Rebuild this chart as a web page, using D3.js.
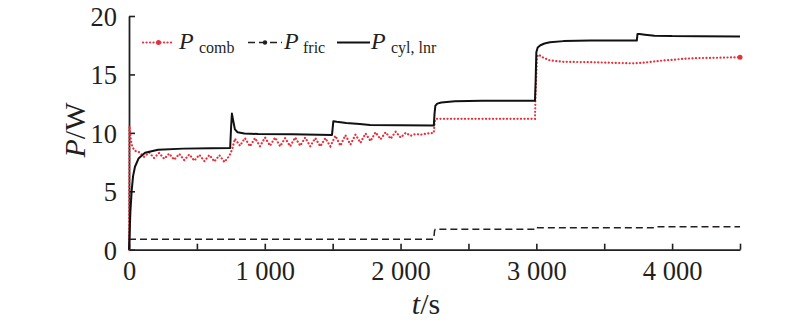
<!DOCTYPE html>
<html>
<head>
<meta charset="utf-8">
<script src="https://cdn.jsdelivr.net/npm/d3@7"></script>
<style>
  html, body { margin: 0; padding: 0; background: #fff; }
  svg { display: block; }
  text { font-family: "Liberation Serif", "Times New Roman", serif; fill: #231f20; }
</style>
</head>
<body>
<svg id="chart" width="800" height="322"></svg>
<script>
// ---- Data ----
const xTicks = [0, 500, 1000, 1500, 2000, 2500, 3000, 3500, 4000, 4500];
const yTicks = [0, 5, 10, 15, 20];

// P_cyl,lnr (solid black)
const tCyl = [0,5,10,20,30,44,70,118,214,400,600,745,752,758,765,780,800,850,950,1200,1495,1500,1505,1530,1600,1700,1775,2000,2245,2250,2256,2270,2300,2400,2600,2990,2995,3000,3010,3030,3060,3100,3200,3400,3740,3745,3760,3800,3870,4000,4200,4500];
const pCyl = [0,1.5,3.2,5.1,6.3,7.1,7.8,8.3,8.55,8.65,8.68,8.7,10.5,11.65,11.2,10.3,10.05,9.95,9.9,9.88,9.82,10.4,11.0,10.95,10.85,10.75,10.68,10.65,10.62,11.6,12.3,12.5,12.6,12.7,12.75,12.75,14.5,16.9,17.3,17.5,17.65,17.75,17.85,17.9,17.9,18.45,18.45,18.4,18.32,18.28,18.27,18.25];

// P_fric (dashed black)
const tFric = [0,2245,2250,2256,2995,3000,3010,3880,3890,4500];
const pFric = [0.9,0.9,1.6,1.75,1.75,1.92,1.88,1.88,1.97,1.97];

// P_comb (dotted red)
const tComb = [0,3,8,15,25,40,55,
  74,111,148,185,222,259,296,333,370,407,444,481,518,555,592,629,666,703,740,
  760,780,817,854,891,928,965,1002,1039,1076,1113,1150,1187,1224,1261,1298,1335,1372,1409,1446,1483,
  1520,1557,1594,1631,1668,1705,1742,1779,1816,1853,1890,1927,1964,2001,2038,2075,2110,2150,2200,2245,
  2252,2260,2600,2990,2995,3005,3015,3050,3100,3200,3400,3600,3710,3800,3900,4000,4100,4200,4300,4500];
const pComb = [0,10.6,10.0,9.3,8.8,8.5,8.4,
  8.35,7.95,8.32,7.85,8.28,7.78,8.22,7.7,8.2,7.66,8.15,7.62,8.12,7.58,8.1,7.55,8.08,7.5,8.05,
  8.6,9.5,8.9,9.55,8.85,9.55,8.85,9.6,8.9,9.6,8.85,9.55,8.85,9.6,8.9,9.6,8.85,9.55,8.85,9.55,8.85,
  9.75,8.9,9.8,9.0,9.85,9.15,9.95,9.3,10.05,9.45,10.05,9.5,10.1,9.6,10.0,9.75,9.9,9.85,9.95,10.0,
  11.0,11.2,11.2,11.2,13.5,16.5,16.7,16.45,16.2,16.08,16.05,15.98,15.95,16.02,16.15,16.25,16.35,16.4,16.42,16.47];

// ---- Layout ----
const svg = d3.select("#chart");
const mLeft = 129, mRight = 740, mTop = 16, mBottom = 249.7;
const ink = "#231f20", red = "#e8303a";
const serif = "'Liberation Serif', 'Times New Roman', serif";

const x = d3.scaleLinear().domain([0, 4500]).range([mLeft, mRight]);
const y = d3.scaleLinear().domain([0, 20]).range([mBottom, mTop]);

const fmtX = d => (d % 1000 === 0) ? (d === 0 ? "0" : d3.format(",")(d).replace(",", " ")) : "";

const xAxis = svg.append("g")
  .attr("transform", `translate(0,${mBottom})`)
  .call(d3.axisBottom(x).tickValues(xTicks).tickFormat(fmtX).tickSizeInner(-6).tickSizeOuter(0).tickPadding(11));
const yAxis = svg.append("g")
  .attr("transform", `translate(${mLeft},0)`)
  .call(d3.axisLeft(y).tickValues(yTicks).tickSizeInner(-6).tickSizeOuter(0).tickPadding(12));

[xAxis, yAxis].forEach(g => {
  g.attr("font-family", serif);
  g.select(".domain").attr("stroke", ink).attr("stroke-width", 1.8);
  g.selectAll(".tick line").attr("stroke", ink).attr("stroke-width", 1.6);
  g.selectAll(".tick text").style("font-family", serif).style("font-size", "26.5px").attr("fill", ink);
});
yAxis.selectAll(".tick text").attr("dy", "0.36em");

// ---- Lines ----
const zip = (ts, vs) => ts.map((t, i) => [t, vs[i]]);
const line = d3.line().x(d => x(d[0])).y(d => y(d[1]));

svg.append("path").datum(zip(tFric, pFric))
  .attr("d", line).attr("fill", "none").attr("stroke", ink)
  .attr("stroke-width", 1.5).attr("stroke-dasharray", "7,4");

const combData = zip(tComb, pComb);
svg.append("path").datum(combData)
  .attr("d", line).attr("fill", "none").attr("stroke", red)
  .attr("stroke-width", 2.2).attr("stroke-linecap", "round").attr("stroke-dasharray", "0.1,3.4");
const lastComb = combData[combData.length - 1];
svg.append("circle").attr("cx", x(lastComb[0])).attr("cy", y(lastComb[1])).attr("r", 2.5).attr("fill", red);

svg.append("path").datum(zip(tCyl, pCyl))
  .attr("d", line).attr("fill", "none").attr("stroke", "#111")
  .attr("stroke-width", 2).attr("stroke-linejoin", "round");

// ---- Axis titles ----
const xt = svg.append("text").attr("x", 426).attr("y", 314).attr("text-anchor", "middle").style("font-family", serif).style("font-size", "30px");
xt.append("tspan").style("font-style", "italic").text("t");
xt.append("tspan").text("/s");

const yt = svg.append("text").attr("transform", "translate(85,130) rotate(-90)").attr("text-anchor", "middle").style("font-family", serif).style("font-size", "30px");
yt.append("tspan").style("font-style", "italic").text("P");
yt.append("tspan").text("/W");

// ---- Legend ----
const ly = 42.5;
const legendItems = [
  { x1: 143, x2: 172, px: 179, sx: 199, sub: "comb", type: "comb" },
  { x1: 248, x2: 282, px: 284, sx: 303, sub: "fric", type: "fric" },
  { x1: 337, x2: 370, px: 371, sx: 391, sub: "cyl, lnr", type: "cyl" }
];
legendItems.forEach(it => {
  const l = svg.append("line").attr("x1", it.x1).attr("x2", it.x2).attr("y1", ly).attr("y2", ly);
  if (it.type === "comb") {
    l.attr("stroke", red).attr("stroke-width", 2.2).attr("stroke-linecap", "round").attr("stroke-dasharray", "0.1,3.4");
    svg.append("circle").attr("cx", (it.x1 + it.x2) / 2 + 1).attr("cy", ly).attr("r", 2.5).attr("fill", red);
  } else if (it.type === "fric") {
    l.attr("stroke", ink).attr("stroke-width", 1.5).attr("stroke-dasharray", "7,4");
    svg.append("circle").attr("cx", (it.x1 + it.x2) / 2).attr("cy", ly).attr("r", 2.2).attr("fill", ink);
  } else {
    l.attr("stroke", "#111").attr("stroke-width", 1.8);
  }
  svg.append("text").attr("x", it.px).attr("y", 48.5).style("font-family", serif).style("font-size", "24px").style("font-style", "italic").text("P");
  svg.append("text").attr("x", it.sx).attr("y", 53).style("font-family", serif).style("font-size", "16px").text(it.sub);
});
</script>
</body>
</html>
